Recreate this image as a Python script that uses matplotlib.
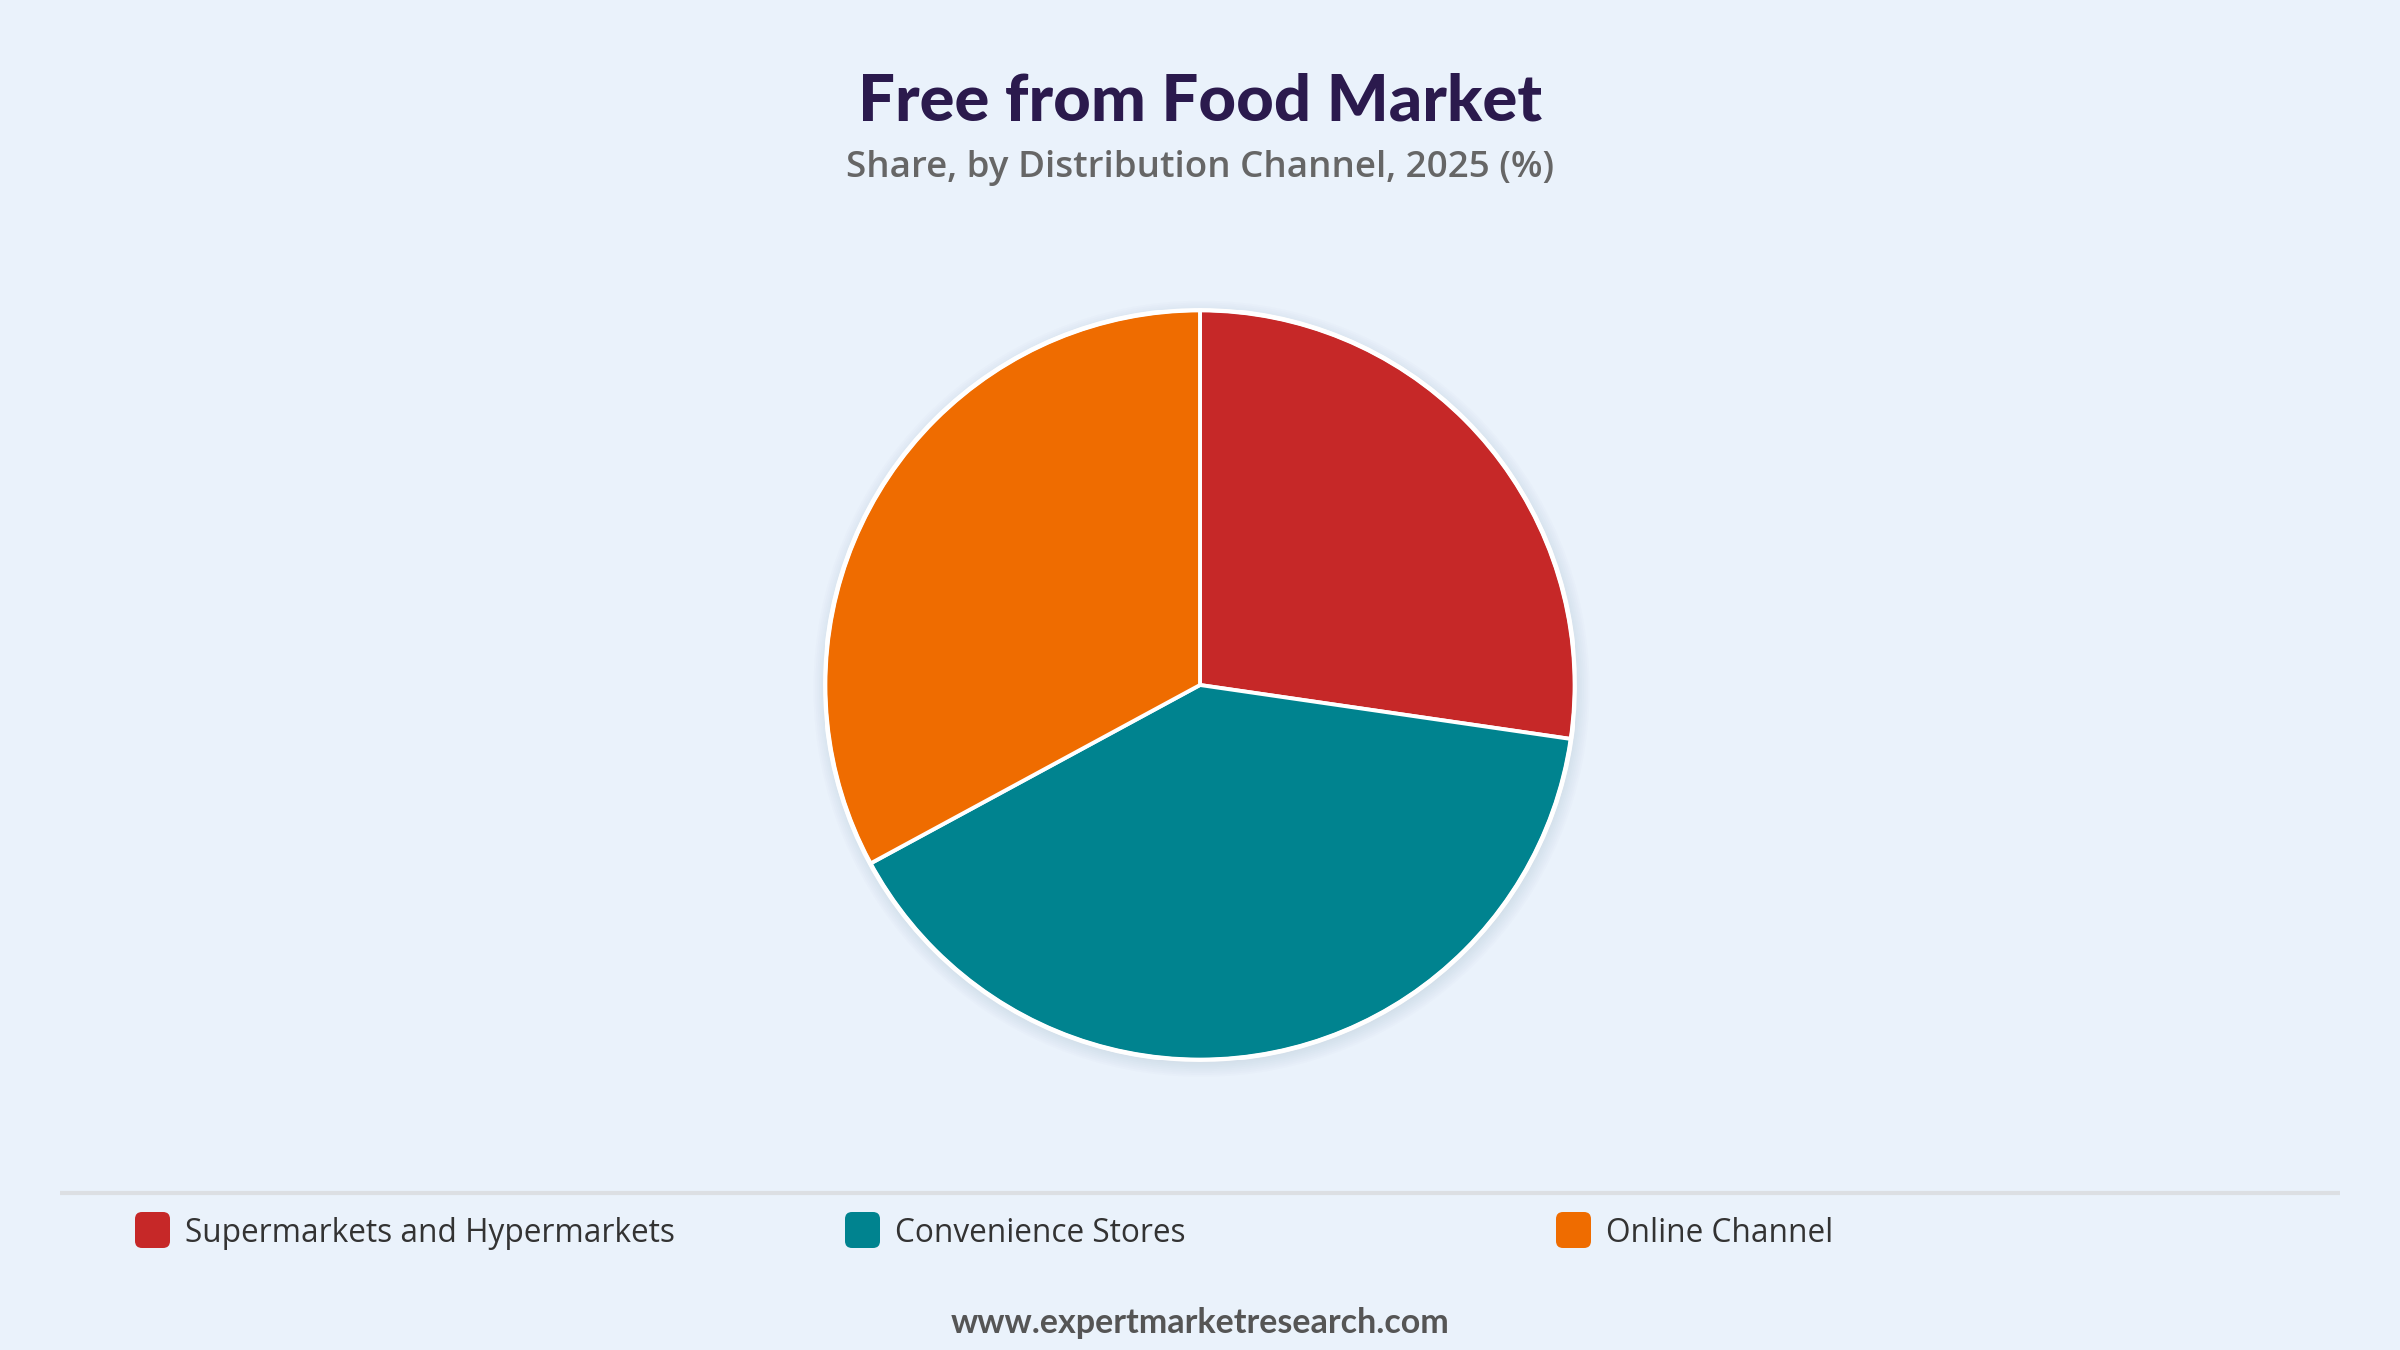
import matplotlib
matplotlib.use("Agg")
import matplotlib.pyplot as plt
from matplotlib.patches import Circle, FancyBboxPatch

# ---- data ----
categories = ["Supermarkets and Hypermarkets", "Convenience Stores", "Online Channel"]
shares = [27.3, 39.8, 32.9]
colors = ["#C62828", "#00838F", "#EF6C00"]
title = "Free from Food Market"
subtitle = "Share, by Distribution Channel, 2025 (%)"
footer = "www.expertmarketresearch.com"

BG = "#EAF2FB"
W, H = 2400, 1350
plt.rcParams['font.family'] = ['Open Sans', 'DejaVu Sans']

fig = plt.figure(figsize=(W / 100, H / 100), dpi=100, facecolor=BG)

# overlay axes in pixel coordinates (y downward)
ov = fig.add_axes([0, 0, 1, 1], facecolor="none", zorder=0)
ov.set_xlim(0, W)
ov.set_ylim(H, 0)
ov.axis("off")

# pie axes
cx, cy, r = 1200, 685, 375
ax = fig.add_axes([(cx - r) / W, (H - cy - r) / H, 2 * r / W, 2 * r / H], zorder=1)
ax.set_xlim(-1, 1)
ax.set_ylim(-1, 1)
ax.set_aspect("equal")
ax.axis("off")

# soft shadow
for k in range(8):
    ax.add_patch(Circle((0.004, -0.010), 1.0 + k * 0.005, facecolor="#5A6E8A",
                        alpha=0.014, edgecolor="none", clip_on=False, zorder=0))

ax.pie(shares, colors=colors, startangle=90, counterclock=False, radius=1.0,
       wedgeprops=dict(edgecolor="white", linewidth=2.8), center=(0, 0), frame=False)
ax.set_xlim(-1, 1)
ax.set_ylim(-1, 1)
ax.add_patch(Circle((0, 0), 1.0, facecolor="none", edgecolor="white", linewidth=3.4, zorder=5))

# titles
ov.text(W / 2, 102, title, ha="center", va="center", fontsize=47, fontweight="black",
        family=["Lato", "DejaVu Sans"], color="#2B1A4D")
ov.text(W / 2, 168, subtitle, ha="center", va="center", fontsize=26.5, fontweight="semibold",
        color="#666666")

# separator line
ov.plot([60, 2340], [1193, 1193], color="#DCDFE3", linewidth=3, solid_capstyle="butt")

# legend
xs = [135, 845, 1556]
for x, lab, col in zip(xs, categories, colors):
    ov.add_patch(FancyBboxPatch((x, 1212), 35, 36,
                                boxstyle="round,pad=0,rounding_size=7",
                                facecolor=col, edgecolor="none"))
    ov.text(x + 50, 1233, lab, ha="left", va="center", fontsize=22.8, color="#333333")

# footer
ov.text(W / 2, 1323, footer, ha="center", va="center", fontsize=24.5, fontweight="bold",
        family=["Lato", "DejaVu Sans"], color="#555555")

fig.savefig("out.png", dpi=100, facecolor=BG)
